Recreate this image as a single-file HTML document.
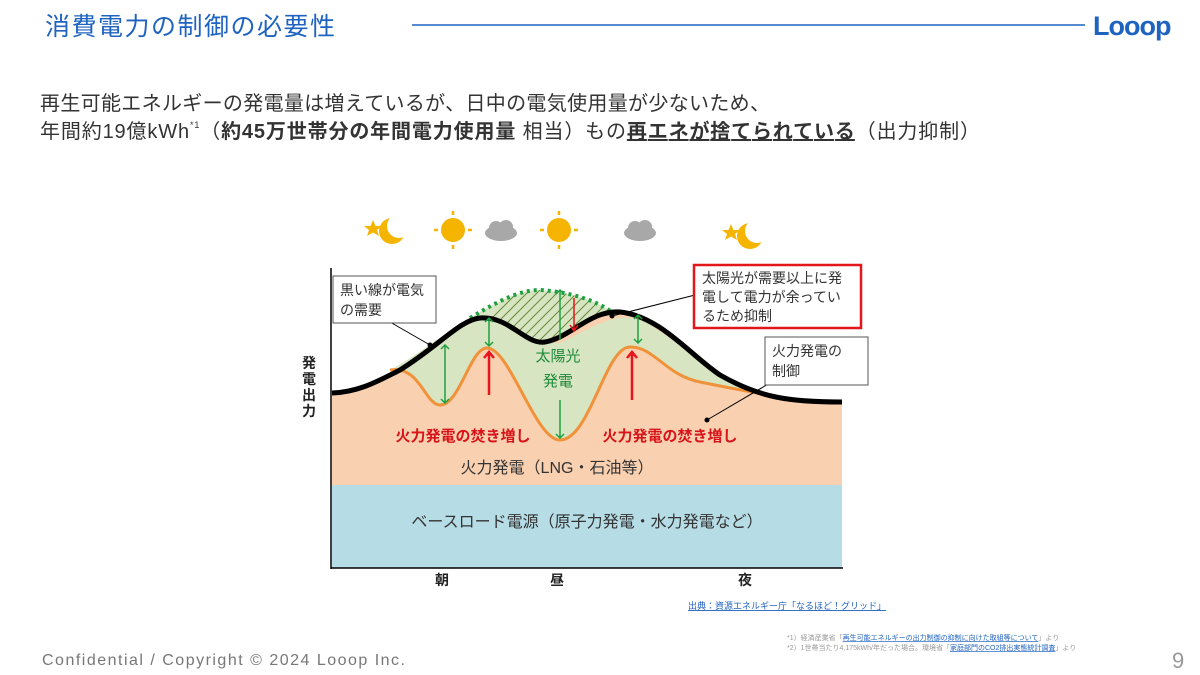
<!DOCTYPE html>
<html><head><meta charset="utf-8"><style>
html,body{margin:0;padding:0;background:#fff;}
svg{display:block;font-family:"Liberation Sans","Noto Sans CJK JP",sans-serif;}
</style></head><body>
<svg width="1200" height="675" viewBox="0 0 1200 675" xmlns="http://www.w3.org/2000/svg">
<text x="45" y="35" font-size="25" fill="#1f63c0" textLength="290">消費電力の制御の必要性</text>
<line x1="412" y1="25" x2="1085" y2="25" stroke="#1f63c0" stroke-width="1.5"/>
<text x="1093" y="35" font-size="27" font-weight="bold" fill="#1f63c0" letter-spacing="-1">Looop</text>

<text x="40" y="110" font-size="20" fill="#333" textLength="730">再生可能エネルギーの発電量は増えているが、日中の電気使用量が少ないため、</text>
<text x="40" y="138" font-size="20" fill="#333" textLength="940">年間約19億kWh<tspan font-size="9" dy="-10">*1</tspan><tspan dy="10">（</tspan><tspan font-weight="bold">約45万世帯分の年間電力使用量</tspan> 相当）もの<tspan font-weight="bold" text-decoration="underline">再エネが捨てられている</tspan>（出力抑制）</text>

<g fill="#f5b400">
<circle cx="392" cy="231" r="13"/><circle cx="399" cy="226" r="12" fill="#fff"/>
<polygon points="373,220 375.5,226 382,226 377,230 379,236 373,232.5 367,236 369,230 364,226 370.5,226"/>
<circle cx="453" cy="230" r="12"/>
<circle cx="559" cy="230" r="12"/>
<circle cx="750" cy="236" r="13"/><circle cx="757" cy="231" r="12" fill="#fff"/>
<polygon points="731,224 733.5,230 740,230 735,234 737,240 731,236.5 725,240 727,234 722,230 728.5,230"/>
</g>
<g stroke="#f5b400" stroke-width="2.5">
<line x1="453" y1="211" x2="453" y2="215"/><line x1="453" y1="245" x2="453" y2="249"/><line x1="434" y1="230" x2="438" y2="230"/><line x1="468" y1="230" x2="472" y2="230"/>
<line x1="559" y1="211" x2="559" y2="215"/><line x1="559" y1="245" x2="559" y2="249"/><line x1="540" y1="230" x2="544" y2="230"/><line x1="574" y1="230" x2="578" y2="230"/>
</g>
<g fill="#a8a8a8">
<ellipse cx="501" cy="233" rx="16" ry="8"/><circle cx="496" cy="228" r="7"/><circle cx="506" cy="227" r="7"/>
<ellipse cx="640" cy="233" rx="16" ry="8"/><circle cx="635" cy="228" r="7"/><circle cx="645" cy="227" r="7"/>
</g>

<rect x="332" y="485" width="510" height="83" fill="#b6dce6"/>
<path d="M332,393 C360,392 380,380 400,370 C440,345 460,320 480,318 C510,316 525,345 545,342 C570,338 590,310 620,312 C660,316 690,355 720,375 C760,398 790,402 842,402 L842,485 L332,485 Z" fill="#f9d0b0"/>
<path d="M390,370 C420,365 425,405 440,405 C460,405 470,348 487,348 C510,348 535,440 560,440 C590,440 605,347 630,347 C655,347 665,375 700,382 C730,388 750,392 770,395 C720,380 690,350 650,325 C620,305 590,330 560,343 C530,342 510,312 480,318 C450,325 420,355 390,370 Z" fill="#d7e5c2"/>
<path d="M470,318 C500,300 520,290 540,290 C570,292 595,300 612,312 C595,312 575,335 545,342 C520,342 505,316 480,318 Z" fill="#d7e5c2"/>
<clipPath id="hc"><path d="M470,318 C500,300 520,290 540,290 C570,292 595,300 612,312 C595,312 575,335 545,342 C520,342 505,316 480,318 Z"/></clipPath>
<g stroke="#6a8a3a" stroke-width="1" clip-path="url(#hc)">
<path d="M470,340 L520,290 M480,340 L530,290 M490,340 L540,290 M500,340 L550,290 M510,340 L560,290 M520,340 L570,290 M530,340 L580,290 M540,340 L590,290 M550,340 L600,290 M560,340 L610,290 M570,340 L620,290"/>
</g>
<path d="M470,318 C500,300 520,290 540,290 C570,292 595,300 612,312" fill="none" stroke="#1fa040" stroke-width="4" stroke-dasharray="3,4"/>
<path d="M390,370 C420,365 425,405 440,405 C460,405 470,348 487,348 C510,348 535,440 560,440 C590,440 605,347 630,347 C655,347 665,375 700,382 C730,388 750,392 770,395" fill="none" stroke="#f0923a" stroke-width="3"/>
<path d="M332,393 C360,392 380,380 400,370 C440,345 460,320 480,318 C510,316 525,345 545,342 C570,338 590,310 620,312 C660,316 690,355 720,375 C760,398 790,402 842,402" fill="none" stroke="#000" stroke-width="5"/>
<line x1="331" y1="268" x2="331" y2="569" stroke="#000" stroke-width="1.5"/>
<line x1="331" y1="568" x2="843" y2="568" stroke="#000" stroke-width="1.5"/>
<g stroke="#1fa040" stroke-width="1.5" fill="none">
<path d="M445,345 V403 M441,349 L445,345 L449,349 M441,399 L445,403 L449,399"/>
<path d="M489,318 V346 M485,322 L489,318 L493,322 M485,342 L489,346 L493,342"/>
<path d="M560,290 V340 M556,294 L560,290 L564,294"/>
<path d="M560,400 V438 M556,434 L560,438 L564,434"/>
<path d="M638,315 V343 M634,319 L638,315 L642,319 M634,339 L638,343 L642,339"/>
</g>
<g stroke="#e8151b" stroke-width="2.5" fill="none">
<path d="M489,395 V352 M484,358 L489,352 L494,358"/>
<path d="M632,400 V352 M627,358 L632,352 L637,358"/>
<path d="M574,298 V330 M570,325 L574,331 L578,325" stroke-width="1.5"/>
</g>
<text x="558" y="361" font-size="15" fill="#1f8a3a" text-anchor="middle">太陽光</text>
<text x="558" y="386" font-size="15" fill="#1f8a3a" text-anchor="middle">発電</text>
<text x="463" y="441" font-size="15" font-weight="bold" fill="#d7141a" text-anchor="middle">火力発電の焚き増し</text>
<text x="670" y="441" font-size="15" font-weight="bold" fill="#d7141a" text-anchor="middle">火力発電の焚き増し</text>
<text x="557" y="473" font-size="16" fill="#333" text-anchor="middle">火力発電（LNG・石油等）</text>
<text x="587" y="527" font-size="16" fill="#333" text-anchor="middle">ベースロード電源（原子力発電・水力発電など）</text>
<g font-size="14" font-weight="bold" fill="#222" text-anchor="middle">
<text x="309" y="368">発</text><text x="309" y="384">電</text><text x="309" y="400">出</text><text x="309" y="416">力</text>
<text x="442" y="585">朝</text><text x="557" y="585">昼</text><text x="745" y="585">夜</text>
</g>
<line x1="383" y1="318" x2="430" y2="345" stroke="#000" stroke-width="1"/><circle cx="430" cy="345" r="2.5"/>
<rect x="333" y="276" width="103" height="47" fill="#fff" stroke="#555" stroke-width="1"/>
<text x="340" y="295" font-size="14" fill="#333">黒い線が電気</text>
<text x="340" y="315" font-size="14" fill="#333">の需要</text>
<line x1="695" y1="295" x2="612" y2="316" stroke="#000" stroke-width="1"/><circle cx="612" cy="316" r="2.5"/>
<rect x="694" y="265" width="167" height="63" fill="#fff" stroke="#e3161c" stroke-width="2.5"/>
<text x="702" y="283" font-size="14" fill="#333">太陽光が需要以上に発</text>
<text x="702" y="302" font-size="14" fill="#333">電して電力が余ってい</text>
<text x="702" y="321" font-size="14" fill="#333">るため抑制</text>
<line x1="770" y1="383" x2="707" y2="420" stroke="#000" stroke-width="1"/><circle cx="707" cy="420" r="2.5"/>
<rect x="765" y="337" width="103" height="48" fill="#fff" stroke="#555" stroke-width="1"/>
<text x="772" y="356" font-size="14" fill="#333">火力発電の</text>
<text x="772" y="376" font-size="14" fill="#333">制御</text>

<text x="688" y="609" font-size="9" fill="#1f63c0" text-decoration="underline">出典：資源エネルギー庁「なるほど！グリッド」</text>
<text x="787" y="640" font-size="7" fill="#999">*1）経済産業省「<tspan fill="#1f63c0" text-decoration="underline">再生可能エネルギーの出力制御の抑制に向けた取組等について</tspan>」より</text>
<text x="787" y="650" font-size="7" fill="#999">*2）1世帯当たり4,175kWh/年だった場合。環境省「<tspan fill="#1f63c0" text-decoration="underline">家庭部門のCO2排出実態統計調査</tspan>」より</text>
<text x="42" y="665" font-size="16" fill="#777" textLength="363">Confidential / Copyright © 2024 Looop Inc.</text>
<text x="1172" y="668" font-size="22" fill="#999">9</text>
</svg>
</body></html>
